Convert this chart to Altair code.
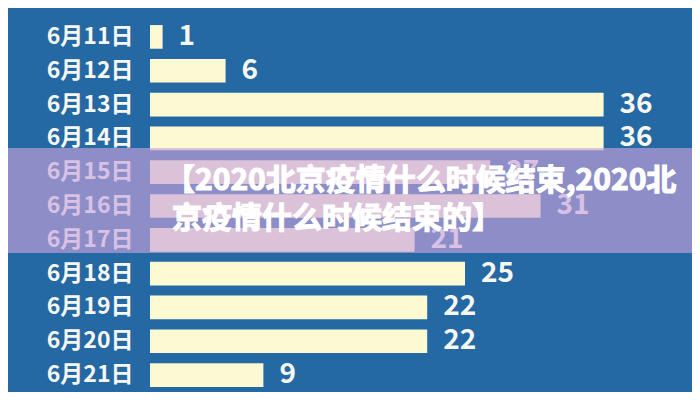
import altair as alt
import pandas as pd

dates = ["6月11日", "6月12日", "6月13日", "6月14日", "6月15日", "6月16日",
         "6月17日", "6月18日", "6月19日", "6月20日", "6月21日"]
cases = [1, 6, 36, 36, 27, 31, 21, 25, 22, 22, 9]
title_lines = ["【2020北京疫情什么时候结束,2020北", "京疫情什么时候结束的】"]

df = pd.DataFrame({"date": dates, "cases": cases})

FONT = "Noto Sans CJK SC"
BG = "#2468a4"
BAR = "#fdf9d2"
TXT = "#f6f7f0"

y_enc = alt.Y("date:N", sort=dates,
              scale=alt.Scale(paddingInner=0.3, paddingOuter=0.15),
              axis=alt.Axis(title=None, domain=False, ticks=False,
                            labelFont=FONT, labelFontSize=23,
                            labelFontWeight="bold", labelColor=TXT,
                            labelPadding=17))
x_enc = alt.X("cases:Q", scale=alt.Scale(domain=[0, 40], nice=False),
              axis=None)

base = alt.Chart(df)
bars = base.mark_bar(color=BAR, cornerRadius=0).encode(x=x_enc, y=y_enc)
vals = base.mark_text(align="left", baseline="middle", dx=16, font=FONT,
                      fontSize=28, fontWeight="bold", color=TXT).encode(
    x=x_enc, y=y_enc, text="cases:Q")

band = alt.Chart(pd.DataFrame({"k": [0]})).mark_rect(
    color="#c9a2dd", opacity=0.64).encode(
    x=alt.value(-142), x2=alt.value(542),
    y=alt.value(128), y2=alt.value(233))

t1 = alt.Chart(pd.DataFrame({"t": [title_lines[0]]})).mark_text(
    align="left", baseline="middle", font=FONT, fontSize=30,
    fontWeight="bold", color="#ffffff", stroke="#ffffff",
    strokeWidth=1.2).encode(
    text="t:N", x=alt.value(15), y=alt.value(161))
t2 = alt.Chart(pd.DataFrame({"t": [title_lines[1]]})).mark_text(
    align="left", baseline="middle", font=FONT, fontSize=30,
    fontWeight="bold", color="#ffffff", stroke="#ffffff",
    strokeWidth=1.2).encode(
    text="t:N", x=alt.value(22), y=alt.value(199))

chart = alt.layer(bars, vals, band, t1, t2).properties(
    width=504, height=372,
    autosize=alt.AutoSizeParams(type="none"),
    padding={"left": 142, "top": 12, "right": 38, "bottom": 0},
    background=BG,
).configure_view(stroke=None)

chart.save("out.html", embed_options={"renderer": "svg", "actions": False})
